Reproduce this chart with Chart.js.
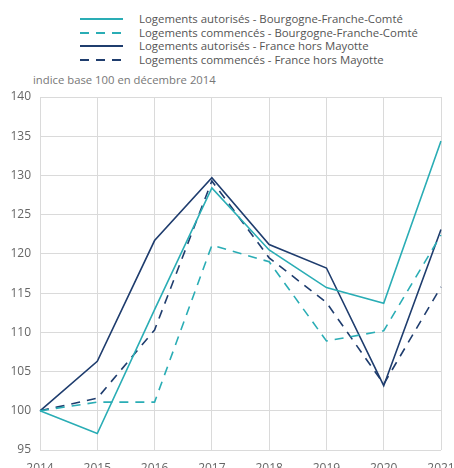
<!DOCTYPE html>
<html lang="fr">
<head>
  <meta charset="UTF-8">
  <title>Logements autorisés et commencés</title>
  <script src="https://cdn.jsdelivr.net/npm/chart.js"></script>
  <style>
    html, body { margin: 0; padding: 0; background: #fff; overflow: hidden; }
    body { width: 454px; height: 468px; position: relative; font-family: "Open Sans", sans-serif; }
    #legend { position: absolute; left: 80px; top: 12px; font-size: 11.4px; color: #555; }
    #legend div { height: 13.7px; line-height: 13.7px; display: flex; align-items: center; white-space: nowrap; }
    #legend svg { margin-right: 16px; }
    #unit { position: absolute; left: 33px; top: 72px; font-size: 11.3px; color: #777; }
    #wrap { position: absolute; left: 0; top: 0; width: 454px; height: 482px; }
  </style>
</head>
<body>
  <div id="legend"></div>
  <div id="unit">indice base 100 en décembre 2014</div>
  <div id="wrap"><canvas id="chart"></canvas></div>

  <script>
    const years = ['2014', '2015', '2016', '2017', '2018', '2019', '2020', '2021'];
    const autorisesBfc = [100, 97.1, 112.9, 128.4, 120.5, 115.7, 113.7, 134.4];
    const commencesBfc = [100, 101.1, 101.1, 121.1, 119.0, 108.9, 110.2, 122.4];
    const autorisesFr = [100, 106.3, 121.7, 129.7, 121.2, 118.2, 103.2, 123.1];
    const commencesFr = [100, 101.6, 110.3, 129.3, 119.5, 113.8, 103.4, 115.8];

    const teal = '#2aadb5';
    const navy = '#1f3d6e';
    const dash = [9, 7];

    const datasets = [
      { label: 'Logements autorisés - Bourgogne-Franche-Comté', data: autorisesBfc, borderColor: teal, borderDash: [] },
      { label: 'Logements commencés - Bourgogne-Franche-Comté', data: commencesBfc, borderColor: teal, borderDash: dash },
      { label: 'Logements autorisés - France hors Mayotte', data: autorisesFr, borderColor: navy, borderDash: [] },
      { label: 'Logements commencés - France hors Mayotte', data: commencesFr, borderColor: navy, borderDash: dash }
    ].map(d => ({ ...d, borderWidth: 1.6, pointRadius: 0, fill: false, tension: 0 }));

    // html legend, built from the datasets
    const legend = document.getElementById('legend');
    datasets.forEach(d => {
      const row = document.createElement('div');
      row.innerHTML = '<svg width="43" height="4"><line x1="0" y1="2" x2="43" y2="2" stroke="' + d.borderColor +
        '" stroke-width="2.2" stroke-dasharray="' + (d.borderDash.length ? d.borderDash.join(' ') : 'none') + '"/></svg>' +
        '<span>' + d.label + '</span>';
      legend.appendChild(row);
    });

    Chart.defaults.font.family = '"Open Sans", sans-serif';
    Chart.defaults.font.size = 12;
    Chart.defaults.color = '#666';

    new Chart(document.getElementById('chart'), {
      type: 'line',
      data: { labels: years, datasets },
      options: {
        responsive: true,
        maintainAspectRatio: false,
        animation: false,
        layout: { padding: { top: 97, right: 0, left: 0, bottom: 0 } },
        plugins: { legend: { display: false }, tooltip: { enabled: false } },
        scales: {
          x: {
            offset: false,
            grid: { color: '#dadada', drawTicks: false },
            border: { display: false },
            ticks: { padding: 11, maxRotation: 0, autoSkip: false },
            afterFit: s => { s.height = 32; s.paddingRight = 13; }
          },
          y: {
            min: 95,
            max: 140,
            grid: { color: '#dadada', drawTicks: false },
            border: { display: false },
            ticks: { stepSize: 5, padding: 9 },
            afterFit: s => { s.width = 40; }
          }
        }
      }
    });
  </script>
</body>
</html>
